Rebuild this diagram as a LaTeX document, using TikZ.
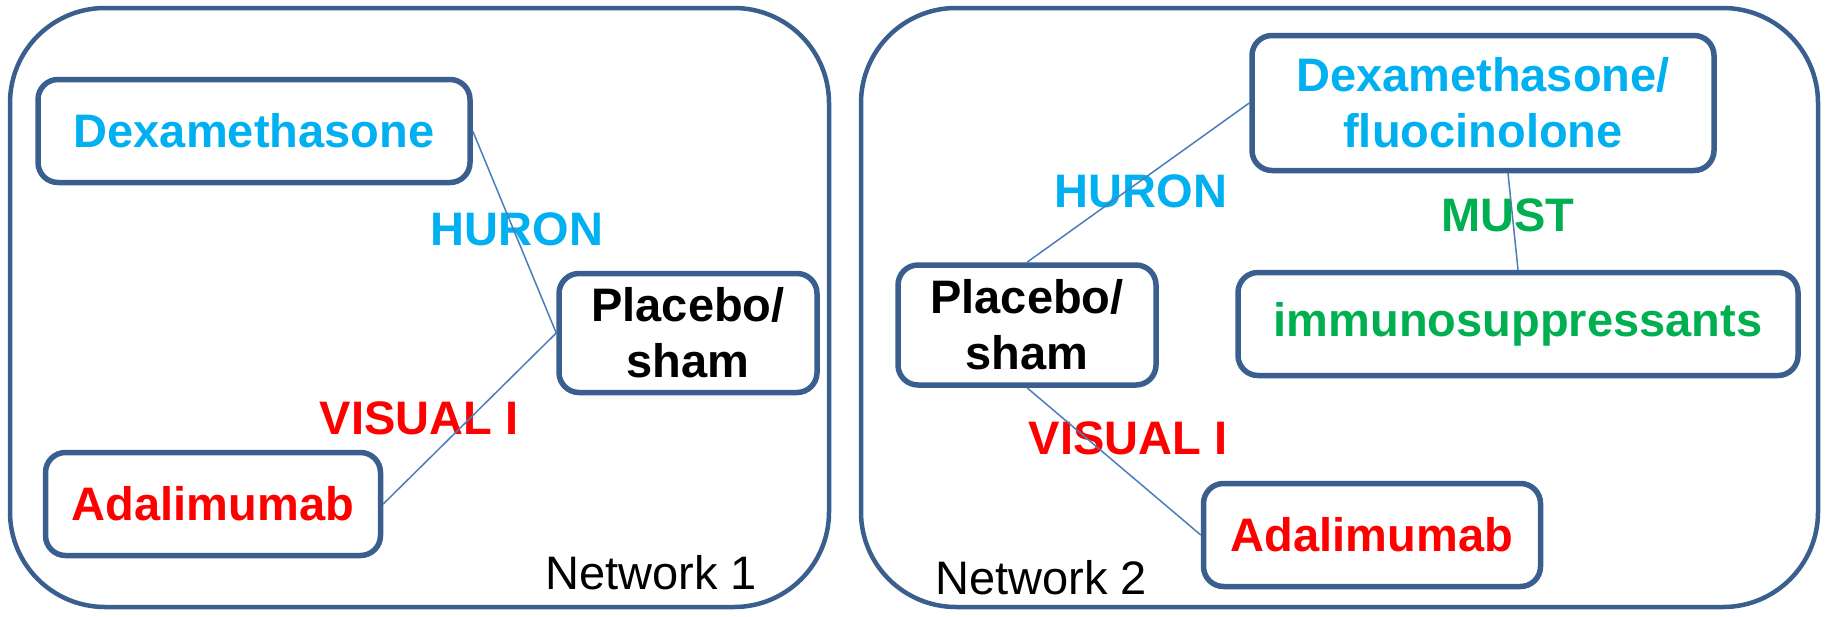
\documentclass[tikz,border=0pt]{standalone}
\usepackage{fontspec}
\setmainfont{Liberation Sans}
\usepackage{xcolor}
\usetikzlibrary{positioning}
\definecolor{frameblue}{HTML}{3A5F8F}
\definecolor{linkblue}{HTML}{4A7EBB}
\definecolor{dexcyan}{HTML}{00B0F0}
\definecolor{mustgreen}{HTML}{00B050}
\definecolor{visred}{HTML}{FF0000}
\begin{document}
\begin{tikzpicture}[x=1pt, y=-1pt, font=\fontsize{47}{56}\selectfont\bfseries,
  box/.style={draw=frameblue, line width=5.5pt, rounded corners=20pt, inner sep=0pt, align=center, minimum height=103pt},
  net/.style={draw=frameblue, line width=4.5pt, rounded corners=95pt},
  link/.style={draw=linkblue, line width=1.5pt},
  trial/.style={inner sep=0pt},
  netname/.style={inner sep=0pt, font=\fontsize{47}{56}\selectfont\mdseries}]
\useasboundingbox (0,0) rectangle (1825,616);
\draw[net] (10,8) rectangle (829,607);
\draw[net] (861,8) rectangle (1818,607);
\node[box, minimum width=432pt, text=dexcyan]   (dex1)  at (254,131)  {Dexamethasone};
\node[box, minimum width=258pt, minimum height=119pt] (plc1) at (688,333) {Placebo/\\sham};
\node[box, minimum width=335pt, text=visred]    (ada1)  at (213,504)  {Adalimumab};
\node[trial, text=dexcyan]   (huron1)  at (517,229) {HURON};
\node[trial, text=visred]    (visual1) at (419,418) {VISUAL I};
\node[netname] (netA) at (651,573) {Network 1};
\node[box, minimum width=462pt, minimum height=135pt, text=dexcyan] (dexfl) at (1483,103) {Dexamethasone/\\fluocinolone};
\node[box, minimum width=258pt, minimum height=120pt] (plc2) at (1027,325) {Placebo/\\sham};
\node[box, minimum width=560pt, text=mustgreen] (imm)  at (1518,324) {immunosuppressants};
\node[box, minimum width=337pt, text=visred]    (ada2) at (1372,535) {Adalimumab};
\node[trial, text=dexcyan]   (huron2)  at (1141,191) {HURON};
\node[trial, text=mustgreen] (must)    at (1508,215) {MUST};
\node[trial, text=visred]    (visual2) at (1128,438) {VISUAL I};
\node[netname] (netB) at (1041,578) {Network 2};
\draw[link] (dex1.east) -- (plc1.west); \draw[link] (ada1.east) -- (plc1.west);
\draw[link] (plc2.north) -- (dexfl.west);
\draw[link] ([xshift=25pt]dexfl.south) -- (imm.north);
\draw[link] (plc2.south) -- (ada2.west);
\end{tikzpicture}
\end{document}
